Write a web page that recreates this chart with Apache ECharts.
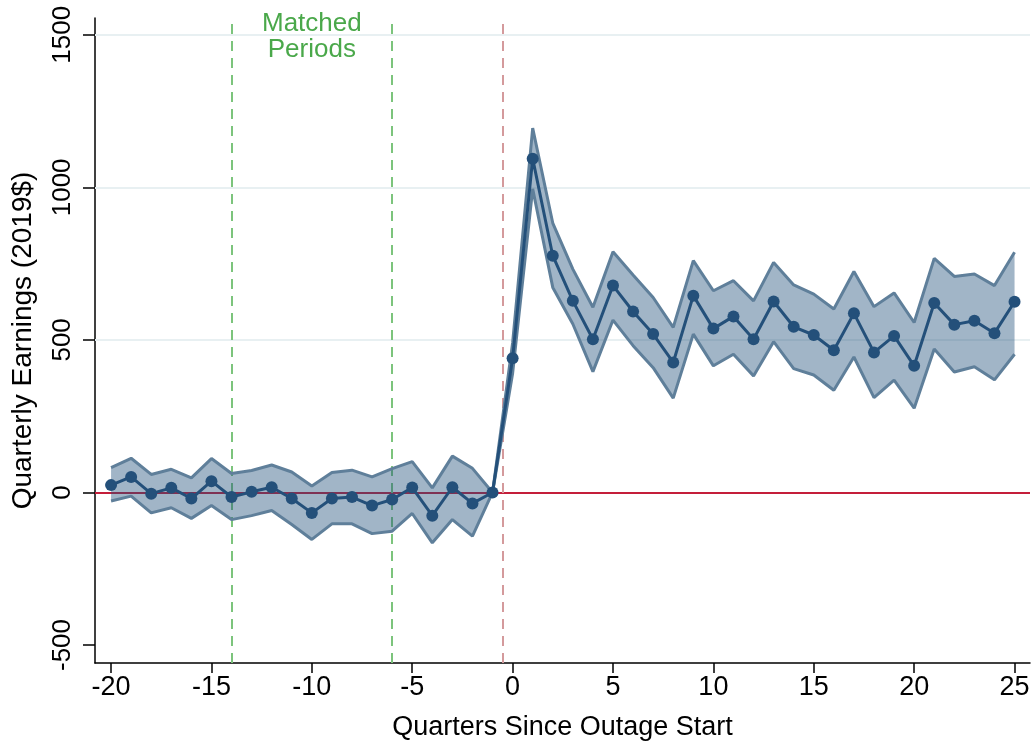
<!DOCTYPE html>
<html>
<head>
<meta charset="utf-8">
<script src="https://cdn.jsdelivr.net/npm/echarts@6/dist/echarts.min.js"></script>
<style>html,body{margin:0;padding:0;background:#fff}#c{width:1035px;height:744px}</style>
</head>
<body>
<div id="c"></div>
<script>
const quarters = [-20,-19,-18,-17,-16,-15,-14,-13,-12,-11,-10,-9,-8,-7,-6,-5,-4,-3,-2,-1,0,1,2,3,4,5,6,7,8,9,10,11,12,13,14,15,16,17,18,19,20,21,22,23,24,25];
const estimate = [24,51,-4,15,-20,37,-15,2,17,-20,-67,-20,-15,-43,-23,16,-76,17,-36,0,440,1094,776,628,502,678,593,519,426,645,537,577,502,626,543,516,466,587,459,513,415,621,550,563,522,625];
const upperCI = [81,112,59,76,48,111,62,72,90,67,21,65,73,51,78,101,15,119,79,0,490,1194,883,732,607,789,713,639,541,760,661,694,628,754,680,650,601,724,609,654,557,767,708,716,678,787];
const lowerCI = [-28,-12,-67,-50,-85,-43,-89,-76,-59,-105,-154,-103,-103,-135,-127,-69,-165,-89,-143,0,390,995,672,552,396,565,481,409,309,519,415,453,382,494,406,385,335,444,311,368,276,470,395,412,369,453];
const xTicks = [-20,-15,-10,-5,0,5,10,15,20,25];
const yTicks = [-500,0,500,1000,1500];
const gridValues = [500,1000,1500];
const matchedStart = -14, matchedEnd = -6, outageLine = -0.5;
const annotation = 'Matched\nPeriods';

const FONT = 'Liberation Sans';
const chart = echarts.init(document.getElementById('c'), null, {renderer:'canvas'});

const upperData = quarters.map((q,i)=>[q, upperCI[i]]);
const lowerData = quarters.map((q,i)=>[q, lowerCI[i]]);
const estData = quarters.map((q,i)=>[q, estimate[i]]);
const bandData = quarters.map((q,i)=>[q, lowerCI[i], upperCI[i]]);

chart.setOption({
  animation:false,
  backgroundColor:'#fff',
  grid:{left:95, right:5, top:18, bottom:81, containLabel:false, outerBoundsMode:'none'},
  xAxis:{
    type:'value', min:-20.8, max:25.77,
    name:'Quarters Since Outage Start', nameLocation:'middle', nameGap:51,
    nameTextStyle:{fontFamily:FONT, fontSize:27, color:'#000'},
    axisLine:{show:true, onZero:false, lineStyle:{color:'#000', width:1.5}},
    axisTick:{show:true, customValues:xTicks, length:10, lineStyle:{color:'#000', width:1.5}},
    axisLabel:{customValues:xTicks, fontFamily:FONT, fontSize:27, color:'#000', margin:11, formatter:v=>String(v)},
    splitLine:{show:false}
  },
  yAxis:{
    type:'value', min:-559, max:1555,
    name:'Quarterly Earnings (2019$)', nameLocation:'middle', nameGap:58,
    nameTextStyle:{fontFamily:FONT, fontSize:28, color:'#000'},
    axisLine:{show:true, onZero:false, lineStyle:{color:'#000', width:1.5}},
    axisTick:{show:true, customValues:yTicks, length:12, lineStyle:{color:'#000', width:1.5}},
    axisLabel:{customValues:yTicks, rotate:90, fontFamily:FONT, fontSize:26, color:'#000', margin:19, formatter:v=>String(v)},
    splitLine:{show:false}
  },
  series:[
    {
      type:'line', data:[], z:1, silent:true,
      markLine:{
        z:1, symbol:'none', silent:true, label:{show:false},
        data:[
          ...gridValues.map(v=>({yAxis:v, lineStyle:{color:'#e8f0f2', width:2, type:'solid'}})),
          {yAxis:0, lineStyle:{color:'#c41e3a', width:2, type:'solid'}},
          {xAxis:matchedStart, lineStyle:{color:'#7cc47c', width:2, type:[10,7]}},
          {xAxis:matchedEnd, lineStyle:{color:'#7cc47c', width:2, type:[10,7]}},
          {xAxis:outageLine, lineStyle:{color:'#d49a9c', width:2, type:[10,7]}}
        ]
      }
    },
    {
      name:'band', type:'custom', data:bandData, z:2, silent:true,
      renderItem:function(params, api){
        if (params.dataIndex !== 0) return null;
        const top = bandData.map(d=>api.coord([d[0], d[2]]));
        const bot = bandData.slice().reverse().map(d=>api.coord([d[0], d[1]]));
        return {type:'polygon', shape:{points: top.concat(bot)}, style:{fill:'rgba(31,78,121,0.42)', stroke:null}};
      }
    },
    {
      name:'upper', type:'line', data:upperData, z:3,
      symbol:'none', lineStyle:{color:'#5f7f9a', width:3}, silent:true
    },
    {
      name:'lower', type:'line', data:lowerData, z:3,
      symbol:'none', lineStyle:{color:'#5f7f9a', width:3}, silent:true
    },
    {
      name:'estimate', type:'line', data:estData, z:4,
      symbol:'circle', symbolSize:12,
      lineStyle:{color:'#24507a', width:3},
      itemStyle:{color:'#24507a'}
    }
  ]
});
// annotation centred between the matched-period lines
const cx = chart.convertToPixel({xAxisIndex:0}, (matchedStart+matchedEnd)/2);
chart.setOption({graphic:[{
  type:'text', id:'matched', x:cx, y:11, z:10,
  style:{text:annotation, fill:'#4aa84a', fontSize:26, fontFamily:FONT, align:'center', verticalAlign:'top', lineHeight:26}
}]});
</script>
</body>
</html>
